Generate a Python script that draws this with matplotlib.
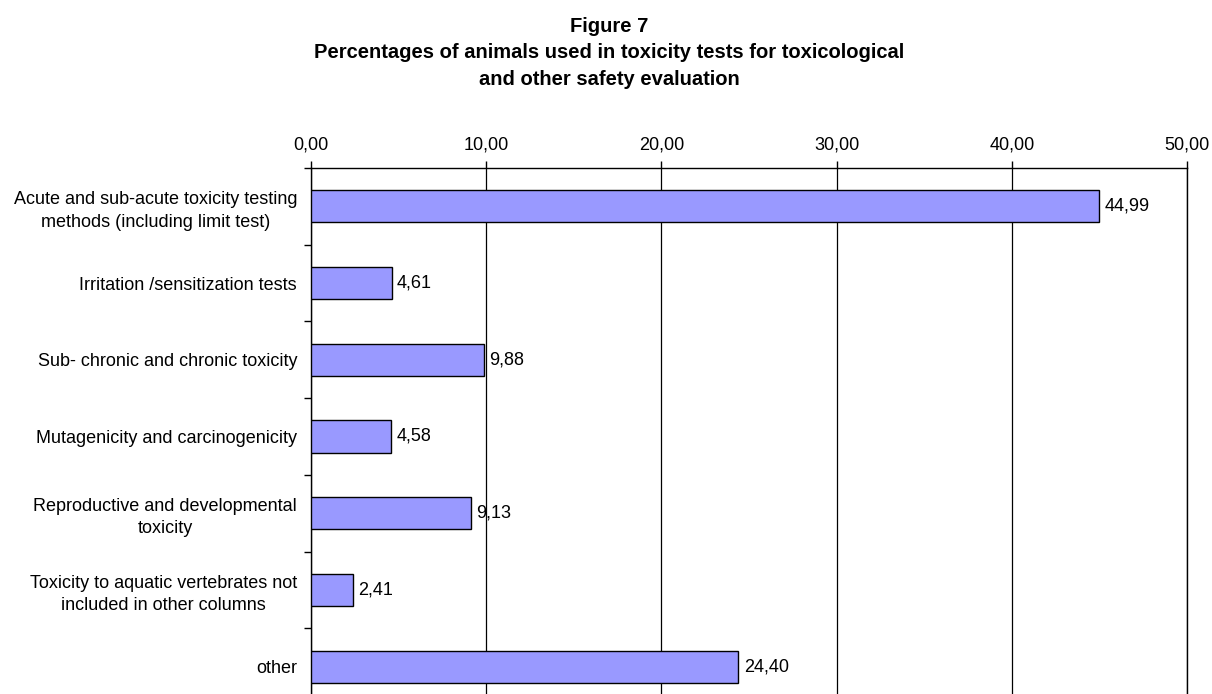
import matplotlib
matplotlib.use("Agg")
import matplotlib.pyplot as plt
import numpy as np

plt.rcParams["font.family"] = ["Liberation Sans", "DejaVu Sans"]

categories = [
    "Acute and sub-acute toxicity testing\nmethods (including limit test)",
    "Irritation /sensitization tests",
    "Sub- chronic and chronic toxicity",
    "Mutagenicity and carcinogenicity",
    "Reproductive and developmental\ntoxicity",
    "Toxicity to aquatic vertebrates not\nincluded in other columns",
    "other",
]
values = [44.99, 4.61, 9.88, 4.58, 9.13, 2.41, 24.40]
xticks = [0, 10, 20, 30, 40, 50]

BAR = "#9999FF"
FS = 13

fig = plt.figure(figsize=(12.12, 6.94), dpi=100)
fig.patch.set_facecolor("white")
# plot area runs past the bottom edge of the picture, as in the source
ax = fig.add_axes([311 / 1212, 1 - 705 / 694, (1187 - 311) / 1212, (705 - 168) / 694])

y = np.arange(len(categories))
ax.barh(y, values, height=0.42, color=BAR, edgecolor="black", linewidth=1.0, zorder=3)
for yi, v in zip(y, values):
    ax.text(v + 0.3, yi, f"{v:.2f}".replace(".", ","), va="center", ha="left",
            fontsize=FS, color="black")

ax.set_xlim(0, 50)
ax.set_ylim(len(categories) - 0.5, -0.5)
ax.xaxis.tick_top()
ax.set_xticks(xticks)
ax.set_xticklabels([f"{t:.2f}".replace(".", ",") for t in xticks], fontsize=FS)
ax.tick_params(axis="x", direction="out", length=5, width=1, pad=5.5, color="black")

ax.set_yticks(y)
ax.set_yticklabels(categories, fontsize=FS, linespacing=1.4, multialignment="center")
ax.set_yticks(np.arange(-0.5, len(categories), 1.0), minor=True)
ax.tick_params(axis="y", which="major", length=0, pad=10)
ax.tick_params(axis="y", which="minor", length=5, width=1, direction="out")

ax.grid(axis="x", color="black", linewidth=0.9, zorder=0)
for sp in ax.spines.values():
    sp.set_color("black")
    sp.set_linewidth(1.0)

title_lines = ["Figure 7",
               "Percentages of animals used in toxicity tests for toxicological",
               "and other safety evaluation"]
for k, line in enumerate(title_lines):
    fig.text(609 / 1212, 1 - (26.5 + 26.5 * k) / 694, line, ha="center", va="center",
             fontsize=14.5, fontweight="bold")

fig.savefig("out.png", dpi=100, facecolor=fig.get_facecolor())
